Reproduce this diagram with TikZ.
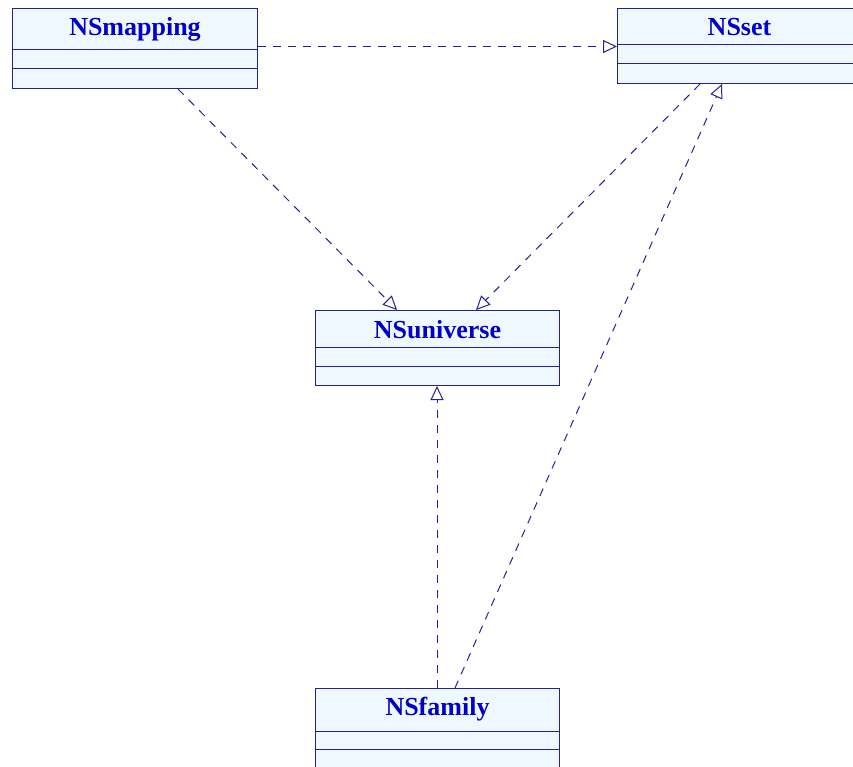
\documentclass[tikz,border=0pt]{standalone}
\usepackage{fontspec}
\setmainfont{Liberation Serif}
\usetikzlibrary{arrows.meta,calc}
\definecolor{umlline}{RGB}{35,35,140}
\definecolor{umltext}{RGB}{0,0,200}
\definecolor{umlfill}{RGB}{240,248,255}
\tikzset{
  umlbox/.style={draw=umlline, fill=umlfill, line width=1pt, rectangle, inner sep=0pt, anchor=north west, minimum width=244pt},
  umltitle/.style={text=umltext, font=\fontsize{26}{30}\selectfont\bfseries, anchor=base, inner sep=0pt},
  divider/.style={draw=umlline, line width=1pt},
  realize/.style={draw=umlline, line width=1pt, dash pattern=on 8pt off 7pt, -{Triangle[open, length=14pt, width=13pt, line width=1pt]}},
}
\begin{document}
\begin{tikzpicture}[x=1pt, y=-1pt]
\useasboundingbox (0,0) rectangle (853,767);
% NSmapping
\node[umlbox, minimum width=245pt, minimum height=80pt] (map) at (12,8) {};
\node[umltitle] (mapt) at ($(map.north)+(0,28)$) {NSmapping};
\draw[divider] ($(map.north west)+(0,42)$) -- ($(map.north east)+(0,42)$);
\draw[divider] ($(map.north west)+(0,61)$) -- ($(map.north east)+(0,61)$);
% NSset
\node[umlbox, minimum height=75pt] (set) at (617,8) {};
\node[umltitle] (sett) at ($(set.north)+(0,28)$) {NSset};
\draw[divider] ($(set.north west)+(0,37)$) -- ($(set.north east)+(0,37)$);
\draw[divider] ($(set.north west)+(0,56)$) -- ($(set.north east)+(0,56)$);
% NSuniverse
\node[umlbox, minimum height=75pt] (uni) at (315,310) {};
\node[umltitle] (unit) at ($(uni.north)+(0,28)$) {NSuniverse};
\draw[divider] ($(uni.north west)+(0,37)$) -- ($(uni.north east)+(0,37)$);
\draw[divider] ($(uni.north west)+(0,56)$) -- ($(uni.north east)+(0,56)$);
% NSfamily
\node[umlbox, minimum height=80pt] (fam) at (315,688) {};
\node[umltitle] (famt) at ($(fam.north)+(0,27)$) {NSfamily};
\draw[divider] ($(fam.north west)+(0,43)$) -- ($(fam.north east)+(0,43)$);
\draw[divider] ($(fam.north west)+(0,61)$) -- ($(fam.north east)+(0,61)$);
% connectors
\draw[realize] ($(map.north east)+(0,38.5)$) -- ($(set.north west)+(0,38.5)$);
\draw[realize] ($(map.south west)+(166,0)$) -- ($(uni.north west)+(82,0)$);
\draw[realize] ($(set.south west)+(83,0)$) -- ($(uni.north west)+(161,0)$);
\draw[realize] ($(fam.north west)+(122,0)$) -- ($(uni.south west)+(122,0)$);
\draw[realize] ($(fam.north west)+(140,0)$) -- ($(set.south west)+(105,0)$);
\end{tikzpicture}
\end{document}
